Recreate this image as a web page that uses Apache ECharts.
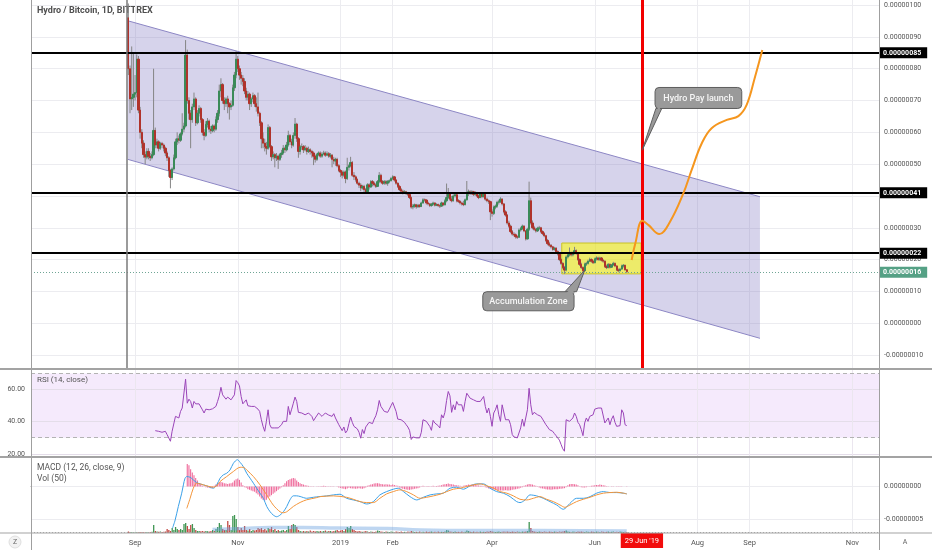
<!DOCTYPE html>
<html><head><meta charset="utf-8">
<script src="https://cdn.jsdelivr.net/npm/echarts@6/dist/echarts.min.js"></script>
<style>html,body{margin:0;padding:0;background:#fff}#c{width:932px;height:550px}</style>
</head><body><div id="c"></div>
<script>
// ---------- DATA (prices in units of 1e-8 BTC) ----------
const ORIGIN = '2018-09-01';
const candleStart = '2018-08-28';
const candleOpen = [
96,80,70.5,71,72,72.5,83,67,60,56.6, 53,52.2,54,52.5,52,53,60.6,56,57,55,
56.5,56,55,53.5,52,48,45.8,48.5,52,57, 58,57.5,59.5,61,62,84.3,70,66,64,68,
70.5,63,66,67.5,64,60,59,62.5,63.5,61, 60.5,62,61,64,66,73,75,70,69,70.5,
69,68,68.5,74,78,83,80,78,77,76, 73,71,72,69,70.5,71.5,69,68,66,63,
58,56.6,55.5,55,61.5,55.5,52.3,53,52,52.5, 51.5,53,53.5,55,54.5,56,59,57,56,59,
62.6,58,54,55.5,55.5,54.5,55,54,54.5,54, 53.5,52.5,51.5,53,53.5,52.5,53.2,53.5,52.8,53.3,
52.5,52.8,51.5,51,51.5,49.5,48,47.5,46.5,47.5, 45.5,49,49.5,50.5,46.5,46,45.2,44,43.4,42.5,
43,42,41.3,43.5,42.8,44.5,44,43.5,43,44.5, 46.5,44.5,44,44.5,44,44.5,44.8,45.5,46,45,
44,43,42,41.5,41,41.3,40.8,40.5,39.5,36.5, 36.8,37.2,36.6,37.1,36.7,37.8,38.8,38.7,37.8,37.5,
37,37.4,37.8,37.1,37.3,37,36.8,37.8,37.2,38.5, 39.5,40.8,39,38.5,40,40.4,38.5,38.3,37.8,37.5,
37.3,38.8,40.8,41.3,40.8,41.3,40.5,41,40,39.5, 40.8,39.8,40.5,39,38.5,38.2,35,34.5,36.5,36.8,
38,38.2,39,37.5,35,34,31.5,30.5,28.8,28, 27.8,27.2,27,29.3,29.8,30.5,29,26.5,29.5,38.5,
31.5,30,29.5,29,29.8,30,28.8,28.2,27.5,26, 25,24.5,24,23.2,23.6,22.5,21.8,20,18.8,17.5,
16.7,20.8,21.5,22,21.5,22,22.8,22,20,18.5, 17.5,16.5,18.5,18.8,19.5,20,19.5,19,20.2,20.5,
20,20.5,19.8,19.5,17.8,17.5,18.5,17.6,18.3,18.8, 18,16.8,16.5,17,18,18.2,16.8];
const candleClose = [
80,70.5,71,72,72.5,83,67,60,56.6,53, 52.2,54,52.5,52,53,60.6,56,57,55,56.5,
56,55,53.5,52,48,45.8,48.5,52,57,58, 57.5,59.5,61,62,84.3,70,66,64,68,70.5,
63,66,67.5,64,60,59,62.5,63.5,61,60.5, 62,61,64,66,73,75,70,69,70.5,69,
68,68.5,74,78,83,80,78,77,76,73, 71,72,69,70.5,71.5,69,68,66,63,58,
56.6,55.5,55,61.5,55.5,52.3,53,52,52.5,51.5, 53,53.5,55,54.5,56,59,57,56,59,62.6,
58,54,55.5,55.5,54.5,55,54,54.5,54,53.5, 52.5,51.5,53,53.5,52.5,53.2,53.5,52.8,53.3,52.5,
52.8,51.5,51,51.5,49.5,48,47.5,46.5,47.5,45.5, 49,49.5,50.5,46.5,46,45.2,44,43.4,42.5,43,
42,41.3,43.5,42.8,44.5,44,43.5,43,44.5,46.5, 44.5,44,44.5,44,44.5,44.8,45.5,46,45,44,
43,42,41.5,41,41.3,40.8,40.5,39.5,36.5,36.8, 37.2,36.6,37.1,36.7,37.8,38.8,38.7,37.8,37.5,37,
37.4,37.8,37.1,37.3,37,36.8,37.8,37.2,38.5,39.5, 40.8,39,38.5,40,40.4,38.5,38.3,37.8,37.5,37.3,
38.8,40.8,41.3,40.8,41.3,40.5,41,40,39.5,40.8, 39.8,40.5,39,38.5,38.2,35,34.5,36.5,36.8,38,
38.2,39,37.5,35,34,31.5,30.5,28.8,28,27.8, 27.2,27,29.3,29.8,30.5,29,26.5,29.5,38.5,31.5,
30,29.5,29,29.8,30,28.8,28.2,27.5,26,25, 24.5,24,23.2,23.6,22.5,21.8,20,18.8,17.5,16.7,
20.8,21.5,22,21.5,22,22.8,22,20,18.5,17.5, 16.5,18.5,18.8,19.5,20,19.5,19,20.2,20.5,20,
20.5,19.8,19.5,17.8,17.5,18.5,17.6,18.3,18.8,18, 16.8,16.5,17,18,18.2,16.8,16.2];
const candleLow = [
78,66,67,68,70,71,66,58,55,52, 50,51.5,51.5,51,51.5,52.5,55,55,54,54.5,
55,54,52.5,51,46,42.4,45,48,51.5,56, 56.5,57,59,60,61.5,69,64,55,63,67,
62,62.5,65,63,59,57.5,58.5,61.5,60,59.5, 60,60,60.5,63,65,71,69,67,68,66,
64,67,68,73,77,79,76.5,75,74.5,72, 70,70,67,68,69.5,68,66.5,65,62,55,
55,54,53,54.5,55,51,51.5,49,51,48.5, 51,52,53,53.5,54,55.5,56,55,55.5,58,
57,52,53,54.5,53.5,54,53,53.5,53,52, 49.7,50.5,51,52.5,52,52,52.8,52.3,52.5,52,
51.8,49,50,49.5,49,47.5,46,45.5,46,44, 45,48,49,46,45,44.5,43.5,42.5,41.5,42,
41,40.8,41,42,42.5,43,43,42.5,42.8,44, 44,43.5,43.5,43.5,43.2,44,44.5,45,44.5,43.5,
42.5,41.5,41,40.5,40.7,40.3,40,39,36,35.8, 36.3,36,36.2,36.3,36.5,37.5,38.2,37.3,37,36.5,
36.6,37,36.7,36.8,36.5,36.2,36.6,36.8,37,38, 39,38.5,38,38.2,39.5,38,37.8,37.3,37,36.8,
37,38.5,40,40.3,40.3,40,40,39.6,39,39.3, 39.3,39.5,38.5,38,37.5,32.4,33.5,34,35.8,36.3,
37.3,37.8,37,34.5,33.5,31,30,28.3,27.5,27.3, 26.6,26.5,26.8,28.8,29.3,28.6,26,26.3,29,31,
29.5,29,28.5,28.7,29.3,28.3,27.7,27,25.5,24.5, 24,23.5,22.8,22.8,22,21.3,19.5,18.3,17,15.5,
16.3,20.3,21,21,21,21.6,21.5,19.6,18,17, 15.8,16.2,18,18.4,19.2,19,18.6,18.8,19.7,19.6,
19.6,19.4,19,17.4,17,17.2,17.2,17.4,18,17.6, 16.4,16,16.2,16.8,17.5,16.5,15.8];
const candleHigh = [
100.5,81,87,85,78,84.5,84,68,61,57.5, 54,55,55,53.5,54,80,61.5,58,57.5,57,
57,56.5,55.5,54,52.5,48.5,49,53,58,60, 59,60,66,63,89,86,71,67,69,72.5,
71,67,68.5,68,64.5,61,63.5,64.5,64,62, 62.5,62.5,65,67,75,77,75.5,71,71,71.5,
69.5,70,75,79,85.5,84,81,79,78,77, 74,73,72.5,71,72.5,72,71,72.5,66.5,63.5,
60,58,57,62.5,62,56,54,53.5,53.5,53, 53.5,54.5,56,55.5,57,60.5,59.5,58,60,64.5,
63,58.5,56,56.5,56,56,55.5,55.5,55,54.5, 54,53,53.5,54,54,53.8,54.2,54,54,53.8,
53.5,53.2,52.3,52,52,50,48.5,48,48,48, 52,50,52.3,51,47.5,46.5,45.5,44.5,44,43.5,
43.5,42.5,44,44,45,45,44.5,44,45,47.5, 47,45,45,45,45,45.2,46,46.5,46.3,45.3,
44.3,43.5,42.5,42,41.8,41.6,41.3,41,39.8,37.5, 37.6,37.5,37.5,37.4,38.2,39.3,39.2,39,38.2,37.8,
37.8,38.2,38,37.7,37.6,37.4,38.2,38,39,43.9, 42.5,41.2,40,40.5,40.8,40.6,39,38.6,38.2,38.5,
39.2,44.7,42,41.8,41.8,41.6,41.5,41.3,40.5,41.2, 41,41,40.8,39.5,38.9,38.5,35.8,37,37.3,38.5,
38.8,39.6,39.3,37.8,35.5,34.3,32.2,31,29.3,28.6, 28.2,27.6,29.8,30.3,31,30.8,29.3,30,44.5,39.5,
32.3,30.6,30,30.3,30.6,30.3,29.2,28.6,27.8,26.5, 25.6,24.9,24.3,24,23.9,22.9,22.1,20.4,19.2,18,
21.3,22.3,23.8,22.5,22.5,24,23.2,22.3,20.4,19, 17.9,19,19.3,20,20.6,20.4,19.9,20.6,21,20.9,
20.9,20.8,20.1,19.8,18.4,18.9,18.8,18.6,19.3,19.1, 18.2,17.2,17.4,18.4,18.6,18.4,17];
const volumes = [
1.5,1,0.8,0.7,0.6,0.7,0.6,0.7,0.8,0.7, 0.6,0.7,0.6,0.8,1.2,8,2,1.5,1.2,1.5,
1,1.3,1.5,4,3,2,5,3,6,4, 3,4,3,9,10,7,4,8,9,5,
3,2,2,1.8,2,1.5,2,1.8,1.5,2, 3,2,4,6,10,8,4,3,3,12,
8,3,17,18,14,6,3,5,3,7, 3,2.5,4,2,3,2.5,3,5,4,5,
3,4,2.5,5,4,6,3,4,2,3, 2,2.5,3,2,3,7,4,8,9,8,
6,3,2,1.5,2,1.5,2,1.5,2.5,1.5, 2,1.5,2,1.5,2,1.5,2,2.5,1.5,2,
2,1.5,2,2.5,3,2,2.5,3,2,4, 6,5,7,4,3,2,1.5,2,1.5,1.2,
1.5,2,1.5,1,1.5,1.2,1,1.5,2.5,2, 1.5,1.2,1,1.5,1.2,1,1.5,1.2,1,1.5,
1.2,1,1.5,1,1.2,1,1.5,1.2,2,1.5, 1,1.2,1,1.5,1,1.2,1,1.5,1,1.2,
1.5,1,1.2,1,1.5,1,1.2,1,1.5,3, 2.5,1.5,1.2,1,1.5,1,1.2,1,1.5,1,
1.2,2.5,2,1.2,1,1.5,1,1.2,1,1.5, 1,1.2,1,1.5,1.2,2,1.5,1.2,1,1.2,
1.5,1,1.2,1.5,1.2,1.5,1.2,1,1.5,1.2, 1,1.5,1.2,1,1.5,1.2,1.5,2,11,5,
2,1.5,1.2,1,1.5,1.2,1,1.5,1.2,1, 1.5,1.2,1,1.5,1.2,1,1.5,1.2,1.5,2,
2.5,1.5,1.2,1,1.5,1.2,1,1.5,1.2,1.5, 1.2,1,1.5,1.2,1,1.5,1.2,1,1.5,1.2,
1,1.5,1.2,1,1.2,1.5,1,1.2,1.5,1, 1.2,1,1.5,1.2,1,1.2,1];

const rsiStart = '2018-09-13';
const rsiValues = [
34.4,33.4,34.0,33.0,33.4,32.6,34.0,32.0,33.0,27.8, 34.0,35.1,43.3,44.3,42.3,46.4,48.5,48.5,66.5,51.5,
54.0,52.6,48.5,52.6,51.1,50.5,51.1,49.9,47.4,45.4, 47.8,48.5,47.4,48.5,48.0,48.5,49.5,52.6,56.1,61.4,
56.7,56.1,54.0,55.3,54.6,53.6,52.6,56.7,65.6,64.3, 62.3,55.7,51.1,49.9,53.6,49.9,48.9,49.5,50.1,49.5,
49.5,47.8,46.4,41.2,37.1,34.0,40.2,47.4,38.1,36.1, 35.5,36.1,37.1,36.1,35.5,38.1,40.2,40.8,40.2,49.5,
44.3,47.8,51.5,55.3,52.6,45.8,45.4,45.4,45.4,44.3, 44.7,45.4,46.0,43.3,40.6,42.3,43.3,45.4,45.4,43.3,
44.3,45.4,44.3,44.1,43.9,43.3,45.0,42.3,41.2,38.1, 37.1,34.4,36.7,33.0,34.4,38.8,42.9,39.6,37.1,36.1,
35.5,33.4,29.7,35.1,32.6,36.7,36.1,39.6,40.8,38.8, 41.6,43.7,47.4,53.2,49.5,48.5,46.4,47.0,45.8,47.8,
49.9,52.0,51.5,46.4,41.6,41.2,41.2,40.6,39.6,38.1, 36.7,34.6,28.9,30.5,29.9,29.9,29.9,29.9,33.4,41.2,
40.2,40.2,38.6,37.1,34.6,40.8,39.2,39.2,37.5,36.1, 44.3,42.3,45.8,53.2,58.8,56.1,45.8,50.5,47.4,52.6,
50.5,49.5,50.5,46.4,52.6,57.7,58.8,54.6,53.6,53.6, 52.6,52.6,52.6,52.6,53.6,55.7,49.5,45.4,48.5,43.3,
37.1,45.4,47.4,50.5,44.3,40.2,50.5,49.5,41.2,42.3, 41.2,38.1,32.0,30.5,29.9,29.9,29.9,36.1,41.6,37.1,
36.1,47.4,60.8,50.5,44.3,45.8,45.8,44.3,45.0,43.3, 41.6,40.8,38.1,36.7,35.1,36.1,34.0,32.6,31.3,30.1,
28.5,25.8,23.1,21.6,41.2,40.8,40.2,41.2,42.3,45.4, 43.3,39.6,38.1,35.1,31.3,39.2,42.3,40.2,43.3,42.3,
44.3,47.8,48.5,48.5,48.5,48.5,47.8,39.2,38.1,42.3, 38.1,41.6,43.7,39.6,37.1,37.1,37.5,47.4,45.4,38.1,
37.5];

const histStart = '2018-10-02';
const macdHist = [
3.4,3.2,2.6,2.1,1.7,1.3,0.9,0.5,0.3,0.1, 0.05,-0.1,-0.15,-0.2,-0.25,-0.2,0.1,0.3,0.5,0.6,
0.7,0.6,0.5,0.45,0.4,0.45,0.5,0.6,0.9,1.1, 1.2,1.0,0.6,0.2,-0.1,-0.2,-0.4,-0.5,-0.6,-0.7,
-0.8,-1.0,-1.2,-1.5,-1.8,-2.0,-2.1,-2.0,-1.7,-1.5, -1.3,-1.1,-0.9,-0.7,-0.5,-0.3,-0.1,0.2,0.5,0.8,
1.0,1.1,1.2,1.3,1.2,0.9,0.7,0.5,0.4,0.3, 0.2,0.15,0.1,0.05,0.05,0.03,0.02,-0.03,0.03,0.05,
0.08,0.1,0.08,0.06,0.05,0.04,0.05,0.03,0.02,-0.05, -0.15,-0.2,-0.3,-0.35,-0.4,-0.3,-0.2,-0.25,-0.3,-0.3,
-0.35,-0.3,-0.25,-0.3,-0.35,-0.25,-0.15,0.1,0.2,0.3, 0.35,0.45,0.5,0.5,0.45,0.4,0.35,0.3,0.35,0.3,
0.3,0.25,0.3,0.25,0.15,0.1,-0.15,-0.25,-0.35,-0.4, -0.45,-0.5,-0.5,-0.45,-0.4,-0.35,-0.3,-0.25,-0.15,0.05,
0.1,0.05,0.05,0.08,-0.05,0.05,0.1,0.05,0.08,0.1, 0.15,0.2,0.3,0.35,0.4,0.45,0.4,0.35,0.3,0.25,
0.2,0.15,0.1,0.05,0.1,0.2,0.25,0.3,0.28,0.3, 0.25,0.22,0.2,0.15,0.12,0.1,0.05,-0.1,-0.2,-0.3,
-0.35,-0.4,-0.45,-0.5,-0.55,-0.55,-0.6,-0.6,-0.6,-0.55, -0.6,-0.6,-0.55,-0.5,-0.45,-0.4,-0.35,-0.3,-0.2,-0.1,
0.1,0.2,0.3,0.4,0.35,0.3,0.2,0.1,-0.05,-0.15, -0.25,-0.3,-0.35,-0.4,-0.45,-0.45,-0.5,-0.45,-0.4,-0.4,
-0.4,-0.35,-0.35,-0.3,-0.25,-0.1,0.2,0.35,0.4,0.4, 0.35,0.3,0.2,0.05,-0.1,-0.15,-0.15,-0.1,-0.05,0.05,
0.1,0.15,0.2,0.25,0.25,0.3,0.25,0.2,0.15,0.05, 0.03,0.02,-0.03,-0.05,0.02,-0.02,0.03,-0.05,-0.02,0.02,
0.01,-0.02];

const macdDays = [22.2,23.8,25.7,27.7,28.7,29.7,30.7,32.7,34.6,36.6,38.6,42.6,46.5,48.5,50.5,52.5,54.4,56.4,58.4,60.8,
62.4,64.3,66.3,68.3,70.3,72.2,74.2,76.2,78.2,80.2,82.1,84.1,86.1,88.1,90.1,92.0,94.0,96.0,98.0,101.9,
105.9,109.9,113.8,117.8,121.7,125.6,129.6,133.6,137.6,141.5,145.4,149.4,153.4,156.3,159.4,163.3,167.3,171.2,175.2,179.2,
183.1,187.1,191.0,195.0,199.0,202.9,206.9,210.8,214.7,218.7,222.7,226.6,228.6,231.6,234.5,238.5,242.4,246.4,250.4,254.3,
258.3,262.2,266.2,270.2,274.1,278.1,282.1,286.0,290.0,292.0];
const macdValues = [-6.3,-5.05,-3.0,-1.0,0.25,1.26,1.5,1.4,1.0,0.6,0.4,0.1,-0.25,0.25,1.26,1.77,2.0,2.5,3.5,4.04,
3.64,3.0,2.0,1.26,0.5,-0.25,-1.0,-1.77,-3.0,-3.8,-4.3,-4.55,-4.3,-3.8,-3.0,-2.0,-1.4,-1.4,-1.5,-1.77,
-1.62,-1.5,-1.41,-1.26,-1.16,-1.77,-2.02,-2.27,-2.63,-2.27,-1.26,-0.76,-0.4,-0.25,-0.76,-1.52,-2.02,-1.62,-1.26,-1.11,
-1.0,-0.25,-0.1,-0.4,0.1,0.4,0.4,-0.25,-0.76,-1.0,-1.52,-2.27,-2.42,-2.02,-1.26,-1.41,-1.77,-2.27,-2.78,-3.43,
-2.53,-1.77,-1.77,-1.52,-1.0,-0.76,-0.91,-0.91,-1.0,-1.11];
const signalDays = [30.7,32.7,34.6,36.6,38.6,42.6,46.5,48.5,50.5,54.4,58.4,62.4,64.3,66.3,70.3,74.2,78.2,82.1,86.1,88.1,
90.1,94.0,98.0,101.9,107.9,109.9,117.8,125.6,129.6,133.6,137.6,141.5,145.4,149.4,153.4,157.3,161.3,165.3,169.3,173.2,
177.2,181.1,185.1,189.0,193.0,197.0,201.0,204.9,208.9,212.8,216.8,220.8,224.7,228.6,232.6,236.5,240.5,244.4,248.4,252.4,
255.3,258.3,262.2,266.2,270.2,274.1,278.1,282.1,286.0,290.0,292.0];
const signalValues = [-3.3,-1.77,-0.25,0.5,0.4,0.1,-0.1,0.1,0.76,1.5,2.27,2.9,2.9,2.5,1.5,0.25,-1.26,-2.8,-3.8,-3.95,
-3.8,-3.0,-2.4,-2.0,-1.67,-1.52,-1.41,-1.62,-1.92,-2.27,-2.42,-2.42,-1.77,-1.11,-0.76,-0.5,-0.76,-1.26,-1.77,-1.62,
-1.41,-1.16,-0.76,-0.4,-0.25,0,0.25,0.4,0.1,-0.25,-0.76,-1.0,-1.41,-1.92,-2.02,-1.77,-1.52,-1.92,-2.27,-2.78,
-3.13,-2.78,-2.27,-1.92,-1.62,-1.26,-1.0,-0.91,-0.86,-1.0,-1.11];
const volMaDays = [46,64,80,100,120,150,170,200,240,292];
const volMaValues = [3.5,4.5,5.5,5.5,5,4.5,3,2.5,2.5,2];

const tickDates = ['2018-09-01','2018-11-01','2019-01-01','2019-02-01','2019-04-01','2019-06-01','2019-08-01','2019-09-01','2019-11-01'];
const tickLabels = ['Sep','Nov','2019','Feb','Apr','Jun','Aug','Sep','Nov'];
const launchDate = '2019-06-29';
const launchLabel = "29 Jun '19";
const priceTicks = [-10,0,10,20,30,40,50,60,70,80,90,100];
const levelPrices = [85, 41, 22];
const lastPrice = 16;
const rsiTicks = [20, 40, 60];
const rsiBand = [30, 70];
const macdTicks = [0, -5];
const markerDate = '2018-08-27';

// drawings
const channelDays = [-4.3, 371.1];
const channelUpper = [95.07, 39.75];
const channelLower = [51.5, -4.75];
const zoneDays = [253.4, 300.5];
const zonePrices = [15.5, 25.2];
const projDays = [294.9,297.1,301.2,304.8,311.3,317.7,325.6,330.5,336.5,342.4,351.4,358.3,363.2,368.2,372.5];
const projValues = [19.86,25.1,32.2,30.9,28.0,31.9,40.8,48.1,56.5,61.3,63.9,65.1,68.6,77.5,85.9];
const hydroNote = {text:'Hydro Pay launch', boxDays:[308.8,360.3], boxPrices:[74.1,67.5], tailDays:[309.3,312.8], tailPrice:67.5, tip:[301.2,54.4]};
const accumNote = {text:'Accumulation Zone', boxDays:[206.5,260.7], boxPrices:[9.9,3.9], tailDays:[255.3,262.2], tailPrice:9.9, tip:[267.1,16.7]};

// ---------- BUILD ----------
const FONT = 'Roboto, "Noto Sans", "DejaVu Sans", sans-serif';
function dayOf(s){ return Math.round((Date.parse(s) - Date.parse(ORIGIN)) / 864e5); }
const fmt8 = v => (v / 1e8).toFixed(8);
const X_MIN = -61.8, X_MAX = 441.8;
const tickDays = tickDates.map(dayOf);
const launchDay = dayOf(launchDate);
const markerDay = dayOf(markerDate);
const c0 = dayOf(candleStart);
const candleDays = candleOpen.map((_, i) => c0 + i);
const candleData = candleOpen.map((o, i) => [candleDays[i], o, candleClose[i], Math.min(o, candleClose[i]), Math.max(o, candleClose[i])]);
const wickData = candleOpen.map((o, i) => [candleDays[i], candleLow[i], candleHigh[i]]);
const volData = volumes.map((v, i) => ({value:[candleDays[i], v], itemStyle:{color: candleClose[i] >= candleOpen[i] ? '#3f9652' : '#c24a45'}}));
const r0 = dayOf(rsiStart);
const rsiData = rsiValues.map((v, i) => [r0 + i, v]);
const h0 = dayOf(histStart);
const histData = macdHist.map((v, i) => [h0 + i, v]);
const zip = (a, b) => a.map((x, i) => [x, b[i]]);

const vGrid = (color) => tickDays.map(d => ({xAxis: d, lineStyle:{color, width:1, type:'solid'}}));
const hGrid = (vals, color) => vals.map(v => ({yAxis: v, lineStyle:{color, width:1, type:'solid'}}));

function noteSeries(n){
  return {type:'custom', xAxisIndex:0, yAxisIndex:0, z:9, silent:true, clip:false, data:[[n.tip[0], n.tip[1]]],
    renderItem:(p, api) => {
      const a = api.coord([n.boxDays[0], n.boxPrices[0]]);
      const b = api.coord([n.boxDays[1], n.boxPrices[1]]);
      const t = api.coord(n.tip);
      const p1 = api.coord([n.tailDays[0], n.tailPrice]);
      const p2 = api.coord([n.tailDays[1], n.tailPrice]);
      const fill = '#9a9a9a', stroke = '#5e5e5e';
      const dir = t[1] > p1[1] ? 1 : -1;
      return {type:'group', children:[
        {type:'polygon', shape:{points:[p1, t, p2]}, style:{fill, stroke, lineWidth:1}},
        {type:'rect', shape:{x:Math.min(a[0],b[0]), y:Math.min(a[1],b[1]), width:Math.abs(b[0]-a[0]), height:Math.abs(b[1]-a[1]), r:4}, style:{fill, stroke, lineWidth:1}},
        {type:'polygon', shape:{points:[[p1[0]+1.2, p1[1]-dir*1.5], [p2[0]-1.2, p2[1]-dir*1.5], [ (p1[0]+p2[0])/2, p1[1]+dir*3]]}, style:{fill}},
        {type:'text', style:{text:n.text, x:(a[0]+b[0])/2, y:(a[1]+b[1])/2 + 0.5, align:'center', verticalAlign:'middle', fill:'#f6f6f6', fontSize:9, fontWeight:500, fontFamily:FONT}}
      ]};
    }};
}

const levelLabel = (v, bg) => ({show:true, position:'end', distance:1, formatter: fmt8(v), color:'#fff', backgroundColor:bg,
  padding:[2,6,1,3], fontSize:7, fontWeight:'bold', fontFamily:FONT, lineHeight:8});

const option = {
  animation:false,
  textStyle:{fontFamily:FONT},
  grid:[
    {left:31, right:53, top:0, height:369},
    {left:31, right:53, top:369, height:88},
    {left:31, right:53, top:457, height:76}
  ],
  xAxis:[
    {type:'value', gridIndex:0, min:X_MIN, max:X_MAX, show:false},
    {type:'value', gridIndex:1, min:X_MIN, max:X_MAX, show:false},
    {type:'value', gridIndex:2, min:X_MIN, max:X_MAX, position:'bottom',
      axisLine:{show:true, lineStyle:{color:'#9a9a9a'}},
      axisTick:{show:true, customValues:tickDays, length:3, lineStyle:{color:'#9a9a9a'}},
      axisLabel:{customValues:tickDays, formatter:v => tickLabels[tickDays.indexOf(Math.round(v))] || '', color:'#555', fontSize:7.5, margin:6},
      splitLine:{show:false}},
    {type:'value', gridIndex:2, min:X_MIN, max:X_MAX, position:'bottom',
      axisLine:{show:false}, axisTick:{show:false}, splitLine:{show:false},
      axisLabel:{customValues:[launchDay], formatter:() => launchLabel, color:'#fff', backgroundColor:'#f20c0c', padding:[4,4,3,4], fontSize:7.5, margin:0}}
  ],
  yAxis:[
    {type:'value', gridIndex:0, position:'right', min:-14.4, max:101.6,
      axisLine:{show:false}, splitLine:{show:false},
      axisTick:{show:true, customValues:priceTicks, length:3, lineStyle:{color:'#9a9a9a'}},
      axisLabel:{customValues:priceTicks, formatter:fmt8, color:'#555', fontSize:7, margin:5}},
    {type:'value', gridIndex:1, position:'left', min:18, max:72.8,
      axisLine:{show:false}, axisTick:{show:false}, splitLine:{show:false},
      axisLabel:{customValues:rsiTicks, formatter:v => v.toFixed(2), color:'#555', fontSize:7, margin:6}},
    {type:'value', gridIndex:2, position:'right', min:-7.0, max:4.45,
      axisLine:{show:false}, splitLine:{show:false},
      axisTick:{show:true, customValues:macdTicks, length:3, lineStyle:{color:'#9a9a9a'}},
      axisLabel:{customValues:macdTicks, formatter:fmt8, color:'#555', fontSize:7, margin:5}},
    {type:'value', gridIndex:2, min:0, max:76, show:false}
  ],
  series:[
    {type:'line', xAxisIndex:0, yAxisIndex:0, data:[[0,50]], showSymbol:false, lineStyle:{opacity:0}, silent:true, z:1,
      markLine:{silent:true, symbol:['none','none'], z:1, label:{show:false},
        data: hGrid(priceTicks, '#ececf0').concat(vGrid('#ececf0'))}},
    {type:'custom', xAxisIndex:0, yAxisIndex:0, z:2, silent:true, data:[[channelDays[0], channelUpper[0]]],
      renderItem:(p, api) => {
        const u0 = api.coord([channelDays[0], channelUpper[0]]), u1 = api.coord([channelDays[1], channelUpper[1]]);
        const l0 = api.coord([channelDays[0], channelLower[0]]), l1 = api.coord([channelDays[1], channelLower[1]]);
        return {type:'group', children:[
          {type:'polygon', shape:{points:[u0,u1,l1,l0]}, style:{fill:'rgba(120,110,190,0.3)'}},
          {type:'line', shape:{x1:u0[0],y1:u0[1],x2:u1[0],y2:u1[1]}, style:{stroke:'#8c86c4', lineWidth:1}},
          {type:'line', shape:{x1:l0[0],y1:l0[1],x2:l1[0],y2:l1[1]}, style:{stroke:'#8c86c4', lineWidth:1}}
        ]};
      }},
    {type:'custom', xAxisIndex:0, yAxisIndex:0, z:3, silent:true, data:[[zoneDays[0], zonePrices[1]]],
      renderItem:(p, api) => {
        const a = api.coord([zoneDays[0], zonePrices[1]]), b = api.coord([zoneDays[1], zonePrices[0]]);
        return {type:'rect', shape:{x:a[0], y:a[1], width:b[0]-a[0], height:b[1]-a[1]}, style:{fill:'rgba(255,255,0,0.55)', stroke:'#c9c425', lineWidth:1}};
      }},
    {type:'custom', xAxisIndex:0, yAxisIndex:0, z:4, silent:true, data:wickData,
      renderItem:(p, api) => {
        const x = api.value(0);
        const lo = api.coord([x, api.value(1)]), hi = api.coord([x, api.value(2)]);
        return {type:'line', shape:{x1:lo[0], y1:lo[1], x2:hi[0], y2:hi[1]}, style:{stroke:'#858585', lineWidth:1}};
      }},
    {type:'candlestick', xAxisIndex:0, yAxisIndex:0, z:5, silent:true, data:candleData, encode:{x:0, y:[1,2,3,4]}, barWidth:1.8,
      itemStyle:{color:'#3b8a58', color0:'#b0332b', borderColor:'#3b8a58', borderColor0:'#b0332b', borderWidth:1}},
    {type:'line', xAxisIndex:0, yAxisIndex:0, data:[[0,50]], showSymbol:false, lineStyle:{opacity:0}, silent:true, z:6,
      markLine:{silent:true, symbol:['none','none'], z:6,
        data: levelPrices.map(v => ({yAxis:v, lineStyle:{color:'#000', width:2, type:'solid'}, label:levelLabel(v, '#000')}))
          .concat([
            {yAxis:lastPrice, lineStyle:{color:'#6fa595', width:1, type:[1,2]}, label:levelLabel(lastPrice, '#55a185')},
            {xAxis:launchDay, lineStyle:{color:'#f20000', width:3, type:'solid'}, label:{show:false}},
            {xAxis:markerDay, lineStyle:{color:'#7a7a7a', width:1.5, type:'solid'}, label:{show:false}}
          ])}},
    {type:'line', xAxisIndex:0, yAxisIndex:0, z:8, silent:true, data:zip(projDays, projValues), smooth:0.4, showSymbol:false,
      lineStyle:{color:'#f5961e', width:2}},
    noteSeries(hydroNote),
    noteSeries(accumNote),
    {type:'line', xAxisIndex:1, yAxisIndex:1, z:5, silent:true, data:rsiData, showSymbol:false, lineStyle:{color:'#9a44b8', width:1},
      markArea:{silent:true, itemStyle:{color:'rgba(170,80,230,0.12)'}, data:[[{yAxis:rsiBand[0]}, {yAxis:rsiBand[1]}]]},
      markLine:{silent:true, symbol:['none','none'], label:{show:false},
        data: hGrid(rsiTicks, '#e4dde9').concat(vGrid('#ebe6ef'))
          .concat(rsiBand.map(v => ({yAxis:v, lineStyle:{color:'#b3b3b3', width:1, type:[4,3]}})))}},
    {type:'bar', xAxisIndex:2, yAxisIndex:3, z:2, silent:true, data:volData, barWidth:1.3, barGap:'-100%',
      markLine:{silent:true, symbol:['none','none'], label:{show:false},
        data:[{yAxis:1, lineStyle:{color:'#a8a8a8', width:1, type:[1,2]}}]}},
    {type:'line', xAxisIndex:2, yAxisIndex:3, z:3, silent:true, data:zip(volMaDays, volMaValues), smooth:0.5, showSymbol:false,
      lineStyle:{color:'rgba(110,165,225,0.45)', width:3.5}},
    {type:'bar', xAxisIndex:2, yAxisIndex:2, z:4, silent:true, data:histData, barWidth:1.1, barGap:'-100%', itemStyle:{color:'#ef6b9b'},
      markLine:{silent:true, symbol:['none','none'], label:{show:false}, z:1,
        data: hGrid(macdTicks, '#ececf0').concat(vGrid('#ececf0'))}},
    {type:'line', xAxisIndex:2, yAxisIndex:2, z:5, silent:true, data:zip(macdDays, macdValues), smooth:0.3, showSymbol:false,
      lineStyle:{color:'#3aa0e8', width:1}},
    {type:'line', xAxisIndex:2, yAxisIndex:2, z:6, silent:true, data:zip(signalDays, signalValues), smooth:0.3, showSymbol:false,
      lineStyle:{color:'#f3953a', width:1}}
  ],
  graphic:[
    {type:'line', z:50, silent:true, shape:{x1:31.5, y1:0, x2:31.5, y2:550}, style:{stroke:'#9f9f9f', lineWidth:1}},
    {type:'line', z:50, silent:true, shape:{x1:879.5, y1:0, x2:879.5, y2:550}, style:{stroke:'#9f9f9f', lineWidth:1}},
    {type:'line', z:50, silent:true, shape:{x1:0, y1:369, x2:932, y2:369}, style:{stroke:'#a3a3a3', lineWidth:2}},
    {type:'line', z:50, silent:true, shape:{x1:0, y1:457, x2:932, y2:457}, style:{stroke:'#a3a3a3', lineWidth:2}},
    {type:'line', z:50, silent:true, shape:{x1:0, y1:533, x2:932, y2:533}, style:{stroke:'#a3a3a3', lineWidth:1}},
    {type:'text', z:1, silent:true, style:{text:'Hydro / Bitcoin, 1D, BITTREX', x:37, y:11, align:'left', verticalAlign:'middle', fill:'#4f4f4f', fontSize:9, fontWeight:'bold', fontFamily:FONT}},
    {type:'text', z:50, silent:true, style:{text:'RSI (14, close)', x:37, y:380, align:'left', verticalAlign:'middle', fill:'#555', fontSize:8, fontFamily:FONT}},
    {type:'text', z:50, silent:true, style:{text:'MACD (12, 26, close, 9)', x:37, y:468, align:'left', verticalAlign:'middle', fill:'#555', fontSize:8.5, fontFamily:FONT}},
    {type:'text', z:50, silent:true, style:{text:'Vol (50)', x:37, y:479, align:'left', verticalAlign:'middle', fill:'#555', fontSize:8.5, fontFamily:FONT}},
    {type:'circle', z:50, silent:true, shape:{cx:15, cy:542, r:6}, style:{fill:'#f2f2f2', stroke:'#dedede'}},
    {type:'text', z:51, silent:true, style:{text:'Z', x:15, y:542, align:'center', verticalAlign:'middle', fill:'#666', fontSize:7, fontFamily:FONT}},
    {type:'text', z:51, silent:true, style:{text:'A', x:905, y:542, align:'center', verticalAlign:'middle', fill:'#666', fontSize:7, fontFamily:FONT}}
  ]
};
const chart = echarts.init(document.getElementById('c'), null, {renderer:'canvas'});
chart.setOption(option);
</script></body></html>
